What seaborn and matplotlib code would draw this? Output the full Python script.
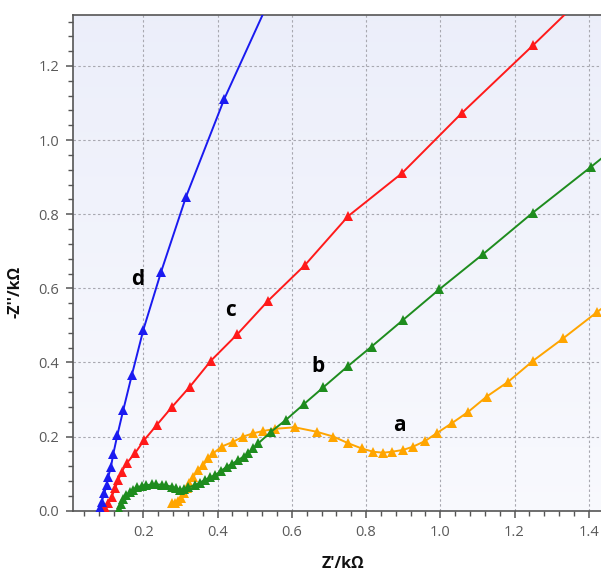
import numpy as np
import pandas as pd
import matplotlib
matplotlib.use("Agg")
import matplotlib.pyplot as plt
from matplotlib.ticker import MultipleLocator
import seaborn as sns

# ---- data ----
d_x = [0.0835, 0.0878, 0.0948, 0.101, 0.1056, 0.1129, 0.119, 0.130, 0.146, 0.169,
       0.200, 0.248, 0.315, 0.418, 0.545]
d_y = [0.0065, 0.024, 0.047, 0.069, 0.092, 0.119, 0.153, 0.204, 0.272, 0.366,
       0.488, 0.645, 0.847, 1.111, 1.39]

c_x = [0.0878, 0.0967, 0.1056, 0.1148, 0.1237, 0.1325, 0.1417, 0.155, 0.1775, 0.2026,
       0.236, 0.2764, 0.3257, 0.3823, 0.453, 0.5366, 0.6355, 0.752, 0.896, 1.058,
       1.250, 1.45]
c_y = [0.004, 0.0065, 0.020, 0.038, 0.060, 0.083, 0.105, 0.128, 0.155, 0.191,
       0.231, 0.279, 0.335, 0.405, 0.476, 0.567, 0.663, 0.795, 0.910, 1.073,
       1.256, 1.45]

b_x = [0.134, 0.140, 0.145, 0.153, 0.163, 0.172, 0.183, 0.196, 0.2085, 0.2225,
       0.235, 0.249, 0.262, 0.276, 0.288, 0.299, 0.310, 0.320, 0.339, 0.353,
       0.366, 0.380, 0.393, 0.409, 0.425, 0.440, 0.456, 0.470, 0.483, 0.495,
       0.510, 0.544, 0.584, 0.633, 0.685, 0.751, 0.815, 0.900, 0.997, 1.116,
       1.249, 1.405, 1.57]
b_y = [0.005, 0.018, 0.031, 0.042, 0.050, 0.057, 0.063, 0.067, 0.069, 0.0707,
       0.071, 0.070, 0.068, 0.065, 0.061, 0.056, 0.059, 0.063, 0.069, 0.076,
       0.083, 0.090, 0.096, 0.107, 0.119, 0.127, 0.137, 0.146, 0.155, 0.168,
       0.182, 0.213, 0.245, 0.288, 0.333, 0.390, 0.443, 0.515, 0.597, 0.693,
       0.804, 0.927, 1.06]

a_x = [0.2764, 0.2853, 0.2947, 0.3028, 0.3095, 0.3163, 0.323, 0.3346, 0.348, 0.3615,
       0.375, 0.3885, 0.411, 0.442, 0.469, 0.496, 0.523, 0.555, 0.608, 0.667,
       0.712, 0.752, 0.788, 0.8195, 0.8465, 0.869, 0.900, 0.927, 0.959, 0.990,
       1.031, 1.0755, 1.125, 1.183, 1.2505, 1.331, 1.421, 1.52]
a_y = [0.0207, 0.022, 0.026, 0.0356, 0.0478, 0.0613, 0.0734, 0.0917, 0.110, 0.123,
       0.141, 0.155, 0.173, 0.186, 0.200, 0.209, 0.215, 0.221, 0.225, 0.213,
       0.200, 0.182, 0.168, 0.159, 0.1565, 0.159, 0.164, 0.173, 0.188, 0.209,
       0.236, 0.267, 0.308, 0.348, 0.405, 0.465, 0.535, 0.61]

series_names = ["a", "b", "c", "d"]
series_colors = {"a": "#FFA500", "b": "#1E8C1E", "c": "#FF1A1A", "d": "#1A1AF0"}
label_pos = {"d": (0.186, 0.625), "c": (0.436, 0.539), "b": (0.671, 0.390), "a": (0.889, 0.231)}

x_ticks = [0.2, 0.4, 0.6, 0.8, 1.0, 1.2, 1.4]
y_ticks = [0.0, 0.2, 0.4, 0.6, 0.8, 1.0, 1.2]

frames = []
for name, xs, ys in [("a", a_x, a_y), ("b", b_x, b_y), ("c", c_x, c_y), ("d", d_x, d_y)]:
    frames.append(pd.DataFrame({"x": xs, "y": ys, "s": name}))
df = pd.concat(frames, ignore_index=True)

# ---- figure ----
sns.set_style("white")
plt.rcParams["font.family"] = ["Open Sans", "DejaVu Sans"]

W, H = 601, 572
fig = plt.figure(figsize=(W / 100, H / 100), dpi=100)
ax_left, ax_right, ax_top, ax_bottom = 73, 603, 15, 510.7
ax = fig.add_axes([ax_left / W, (H - ax_bottom) / H, (ax_right - ax_left) / W, (ax_bottom - ax_top) / H])

# background gradient
grad = np.linspace(0, 1, 256).reshape(-1, 1)
top_c = np.array([0.925, 0.935, 0.98])
bot_c = np.array([0.975, 0.978, 0.995])
img = top_c[None, None, :] * (1 - grad[:, :, None]) + bot_c[None, None, :] * grad[:, :, None]
ax.imshow(img, extent=[0, 1, 0, 1], transform=ax.transAxes, aspect="auto", zorder=0)

for name in series_names:
    sub = df[df["s"] == name]
    sns.lineplot(data=sub, x="x", y="y", ax=ax, sort=False, estimator=None,
                 color=series_colors[name], marker="^", markersize=6.5,
                 markeredgewidth=0, linewidth=1.4, zorder=3, legend=False)

x0 = (ax_left - 69.1) / 371.2
x1 = (ax_right - 69.1) / 371.2
ax.set_xlim(x0, x1)
ax.set_ylim(0, (510.7 - 15) / 370.6)

ax.set_xticks(x_ticks)
ax.set_yticks(y_ticks)
ax.set_xticklabels([f"{v:.1f}" for v in x_ticks])
ax.set_yticklabels([f"{v:.1f}" for v in y_ticks])
ax.xaxis.set_minor_locator(MultipleLocator(0.04))
ax.yaxis.set_minor_locator(MultipleLocator(0.04))
ax.tick_params(axis="both", which="major", direction="out", length=5, width=1.1,
               color="#555555", labelcolor="#5a5a5a", labelsize=10.5, pad=5)
ax.tick_params(axis="both", which="minor", direction="out", length=3.5, width=1.0,
               color="#555555")
ax.tick_params(axis="x", which="both", bottom=True, top=False)
ax.tick_params(axis="y", which="both", left=True, right=False)

ax.grid(True, which="major", color="#a8a8b0", linestyle=(0, (2.2, 2.2)), linewidth=0.8, zorder=1)
ax.set_axisbelow(True)

for sp in ["left", "bottom", "top"]:
    ax.spines[sp].set_color("#555555")
    ax.spines[sp].set_linewidth(1.2)
ax.spines["right"].set_visible(False)

ax.set_xlabel("")
ax.set_ylabel("")

for name in series_names:
    lx, ly = label_pos[name]
    ax.text(lx, ly, name, fontsize=15, fontweight="bold", color="black",
            ha="center", va="center", zorder=5)

fig.text(16 / W, 1 - 292 / H, "-Z''/kΩ", rotation=90, fontsize=11.5, fontweight="bold",
         ha="center", va="center", color="#111111")
fig.text(343 / W, 1 - 564 / H, "Z'/kΩ", fontsize=11.5, fontweight="bold",
         ha="center", va="center", color="#111111")

fig.savefig("out.png", dpi=100)
